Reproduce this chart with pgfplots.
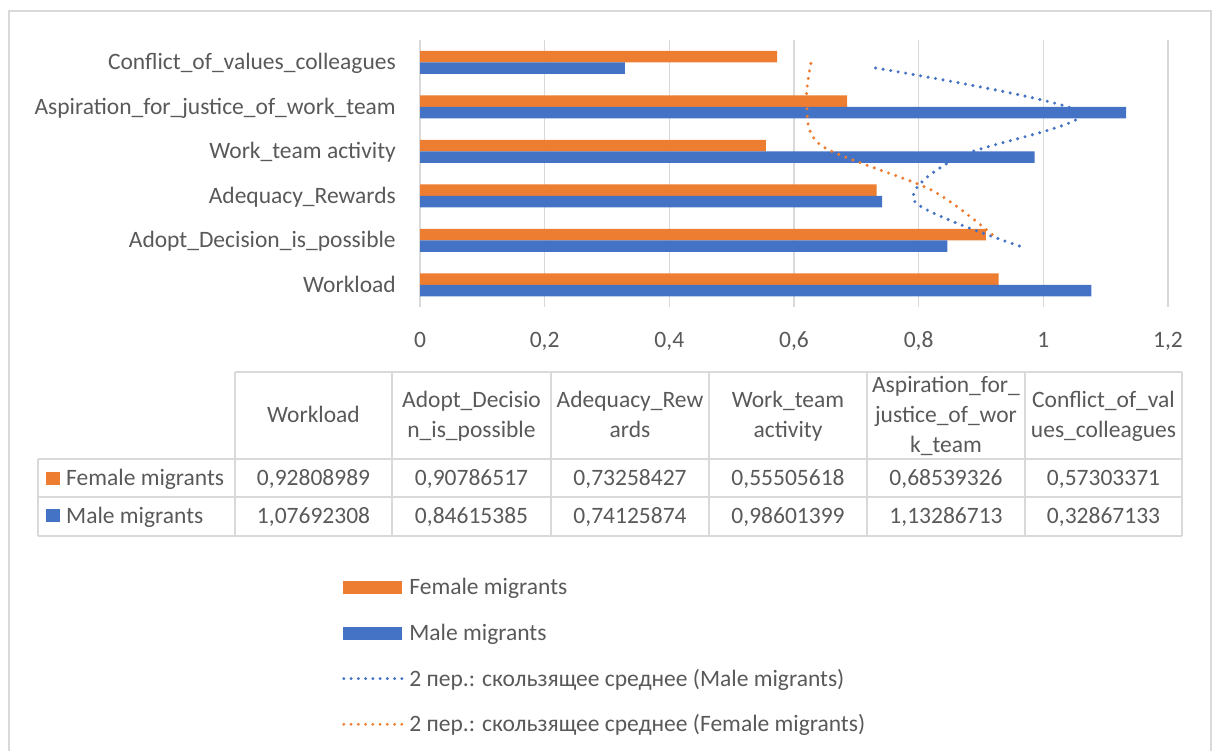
\documentclass[border=0pt]{standalone}
\usepackage{pgfplots}
\pgfplotsset{compat=1.18}
\usepackage{pgfplotstable}
\usepackage{fontspec}
\setmainfont{Carlito}
\definecolor{cOr}{HTML}{ED7D31}
\definecolor{cBl}{HTML}{4472C4}
\definecolor{cTx}{HTML}{595959}
\definecolor{cGr}{HTML}{D9D9D9}

\pgfplotstableread{
idx female male
0 0.92808989 1.07692308
1 0.90786517 0.84615385
2 0.73258427 0.74125874
3 0.55505618 0.98601399
4 0.68539326 1.13286713
5 0.57303371 0.32867133
}\bardata

\pgfplotstableread{
pos val
0.871 0.96153847
1.871 0.79370630
2.871 0.86363637
3.871 1.05944056
4.871 0.73076923
}\maleMA

\pgfplotstableread{
pos val
1.129 0.91797753
2.129 0.82022472
3.129 0.64382023
4.129 0.62022472
5.129 0.62921349
}\femaleMA

\begin{document}
\fontsize{23.5}{30}\selectfont
\begin{tikzpicture}[x=1pt,y=1pt,font=\fontsize{23.5}{30}\selectfont, every node/.style={text=cTx}]
\useasboundingbox (0,0) rectangle (1215,750);
\draw[cGr, line width=1.3pt] (9,-5) -- (9,739) -- (1211,739) -- (1211,-5);

\begin{axis}[
  at={(420pt,443pt)}, anchor=south west,
  scale only axis, width=748pt, height=267pt,
  xmin=0, xmax=1.2, ymin=-0.5, ymax=5.5,
  axis line style={draw=none},
  major tick length=0pt,
  xtick={0,0.2,0.4,0.6,0.8,1,1.2},
  xmajorgrids, grid style={cGr, line width=1.3pt},
  ytick={0,1,2,3,4,5},
  yticklabels={Workload, Adopt\_Decision\_is\_possible, Adequacy\_Rewards, Work\_team activity, Aspiration\_for\_justice\_of\_work\_team, Conflict\_of\_values\_colleagues},
  /pgf/number format/use comma,
  /pgf/number format/assume math mode=true,
  xticklabel style={anchor=base, inner sep=0pt, yshift=-40.5pt},
  yticklabel style={anchor=base east, inner sep=0pt, xshift=-24pt, yshift=-7.5pt},
  legend style={at={(axis description cs:-0.10428,-1.0131)}, anchor=north west, draw=none, fill=none, inner sep=0pt, row sep=22.7pt, column sep=6pt, nodes={inner sep=0pt, text height=17pt, text depth=6pt, anchor=base west}},
  legend cell align=left,
]
\addplot[xbar, bar width=11.5pt, bar shift=5.75pt, fill=cOr, draw=none,
  legend image code/.code={\fill[cOr] (0pt,0.5pt) rectangle (59pt,13.5pt);}]
  table[x=female, y=idx] {\bardata};
\addplot[xbar, bar width=11.5pt, bar shift=-5.75pt, fill=cBl, draw=none,
  legend image code/.code={\fill[cBl] (0pt,0.5pt) rectangle (59pt,13.5pt);}]
  table[x=male, y=idx] {\bardata};
\addplot[cBl, line width=3.4pt, line cap=round, dash pattern=on 0pt off 7.6pt, smooth, mark=none,
  legend image code/.code={\draw[cBl, line width=3.2pt, line cap=round, dash pattern=on 0pt off 7.25pt] (1pt,7.5pt) -- (59pt,7.5pt);}]
  table[x=val, y=pos] {\maleMA};
\addplot[cOr, line width=3.4pt, line cap=round, dash pattern=on 0pt off 7.6pt, smooth, mark=none,
  legend image code/.code={\draw[cOr, line width=3.2pt, line cap=round, dash pattern=on 0pt off 7.25pt] (1pt,7.5pt) -- (59pt,7.5pt);}]
  table[x=val, y=pos] {\femaleMA};
\legend{Female migrants, Male migrants, 2 пер.: скользящее среднее (Male migrants), 2 пер.: скользящее среднее (Female migrants)}
\end{axis}

% data table
\draw[cGr, line width=1.3pt] (235,378) -- (1182,378)
  (38,291) -- (1182,291) (38,253) -- (1182,253) (38,214) -- (1182,214)
  (38,291) -- (38,214);
\foreach \cx in {235,392,551,709,867,1025,1182} {\draw[cGr, line width=1.3pt] (\cx,378) -- (\cx,214);}

\node[anchor=base] at (313.5,327) {Workload};
\node[anchor=base] at (471.5,342) {Adopt\_Decisio};
\node[anchor=base] at (471.5,312) {n\_is\_possible};
\node[anchor=base] at (630,342) {Adequacy\_Rew};
\node[anchor=base] at (630,312) {ards};
\node[anchor=base] at (788,342) {Work\_team};
\node[anchor=base] at (788,312) {activity};
\node[anchor=base] at (946,357) {Aspiration\_for\_};
\node[anchor=base] at (946,327) {justice\_of\_wor};
\node[anchor=base] at (946,297) {k\_team};
\node[anchor=base] at (1103.5,342) {Conflict\_of\_val};
\node[anchor=base] at (1103.5,312) {ues\_colleagues};

\fill[cOr] (46,265) rectangle (60,278);
\fill[cBl] (46,228) rectangle (60,241);
\node[anchor=base west, inner sep=0pt] at (66,264.5) {Female migrants};
\node[anchor=base west, inner sep=0pt] at (66,226) {Male migrants};

\foreach \cx/\va/\vb in {313.5/{0,92808989}/{1,07692308}, 471.5/{0,90786517}/{0,84615385}, 630/{0,73258427}/{0,74125874}, 788/{0,55505618}/{0,98601399}, 946/{0,68539326}/{1,13286713}, 1103.5/{0,57303371}/{0,32867133}} {
  \node[anchor=base] at (\cx,264.5) {\va};
  \node[anchor=base] at (\cx,226) {\vb};
}
\end{tikzpicture}
\end{document}
